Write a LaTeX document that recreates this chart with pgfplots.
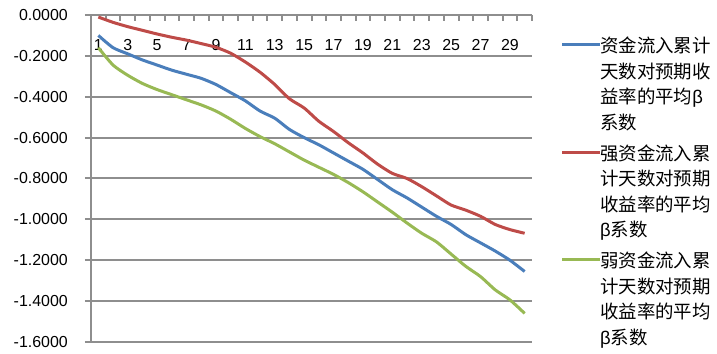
\documentclass[border=0pt]{standalone}
\usepackage{pgfplots}
\pgfplotsset{compat=1.18}
\usepackage{pgfplotstable}
\usepackage{fontspec}
\setmainfont{Liberation Sans}
\newfontfamily\cjk{Noto Sans CJK SC}
\newfontfamily\lat{Liberation Sans}
\definecolor{sblue}{HTML}{4A7EBB}
\definecolor{sred}{HTML}{BE4B48}
\definecolor{sgreen}{HTML}{98B954}
\definecolor{gridc}{HTML}{8E8E8E}

\pgfplotstableread{
x all strong weak
1 -0.100 -0.010 -0.160
2 -0.160 -0.036 -0.245
3 -0.190 -0.057 -0.295
4 -0.220 -0.075 -0.335
5 -0.245 -0.093 -0.365
6 -0.270 -0.109 -0.390
7 -0.290 -0.123 -0.415
8 -0.310 -0.140 -0.440
9 -0.340 -0.158 -0.470
10 -0.380 -0.187 -0.510
11 -0.420 -0.230 -0.555
12 -0.470 -0.280 -0.595
13 -0.505 -0.340 -0.630
14 -0.560 -0.410 -0.670
15 -0.600 -0.455 -0.710
16 -0.635 -0.520 -0.745
17 -0.675 -0.570 -0.780
18 -0.715 -0.625 -0.820
19 -0.755 -0.675 -0.865
20 -0.805 -0.730 -0.915
21 -0.855 -0.775 -0.965
22 -0.895 -0.800 -1.018
23 -0.940 -0.840 -1.068
24 -0.985 -0.885 -1.110
25 -1.025 -0.930 -1.170
26 -1.075 -0.955 -1.230
27 -1.115 -0.985 -1.280
28 -1.155 -1.025 -1.345
29 -1.200 -1.050 -1.394
30 -1.255 -1.068 -1.460
}\datatable

\begin{document}
\begin{tikzpicture}
\begin{axis}[
  at={(91bp,12bp)}, anchor=south west,
  scale only axis, width=441bp, height=327bp,
  xmin=0.5, xmax=30.5, ymin=-1.6, ymax=0,
  axis x line*=top, axis y line*=left,
  axis line style={draw=gridc, line width=2bp},
  tick align=inside,
  major tick length=6bp,
  tick style={draw=gridc, line width=2bp},
  ytick style={xshift=-6bp},
  xtick={0.5,1.5,...,30.5},
  xticklabels={1,,3,,5,,7,,9,,11,,13,,15,,17,,19,,21,,23,,25,,27,,29,,},
  xticklabel style={anchor=center, xshift=7.35bp, yshift=-30bp},
  ytick={-1.6,-1.4,-1.2,-1,-0.8,-0.6,-0.4,-0.2,0},
  ymajorgrids,
  major grid style={draw=gridc, line width=2bp},
  /pgf/number format/assume math mode=true,
  yticklabel style={/pgf/number format/fixed, /pgf/number format/fixed zerofill, /pgf/number format/precision=4, anchor=east, inner sep=0pt, xshift=-23bp},
  ticklabel style={font=\fontsize{16}{19}\selectfont, text=black},
]
\addplot[sblue, line width=3bp, smooth, tension=0.4] table[x=x, y=all] {\datatable};
\addplot[sred, line width=3bp, smooth, tension=0.4] table[x=x, y=strong] {\datatable};
\addplot[sgreen, line width=3bp, smooth, tension=0.4] table[x=x, y=weak] {\datatable};
\end{axis}
% legend keys
\draw[sblue, line width=3bp] (562bp,309bp) -- (600bp,309bp);
\draw[sred, line width=3bp] (562bp,201.5bp) -- (600bp,201.5bp);
\draw[sgreen, line width=3bp] (562bp,94bp) -- (600bp,94bp);
\begin{scope}[every node/.style={anchor=north west, inner sep=0pt, align=left, font=\cjk\fontsize{18.5}{25.5}\selectfont}]
\node at (600bp,317bp) {资金流入累计\\天数对预期收\\益率的平均{\lat β}\\系数};
\node at (600bp,209.5bp) {强资金流入累\\计天数对预期\\收益率的平均\\{\lat β}系数};
\node at (600bp,102bp) {弱资金流入累\\计天数对预期\\收益率的平均\\{\lat β}系数};
\end{scope}
\pgfresetboundingbox
\path (0,0) rectangle (717bp,354bp);
\end{tikzpicture}
\end{document}
